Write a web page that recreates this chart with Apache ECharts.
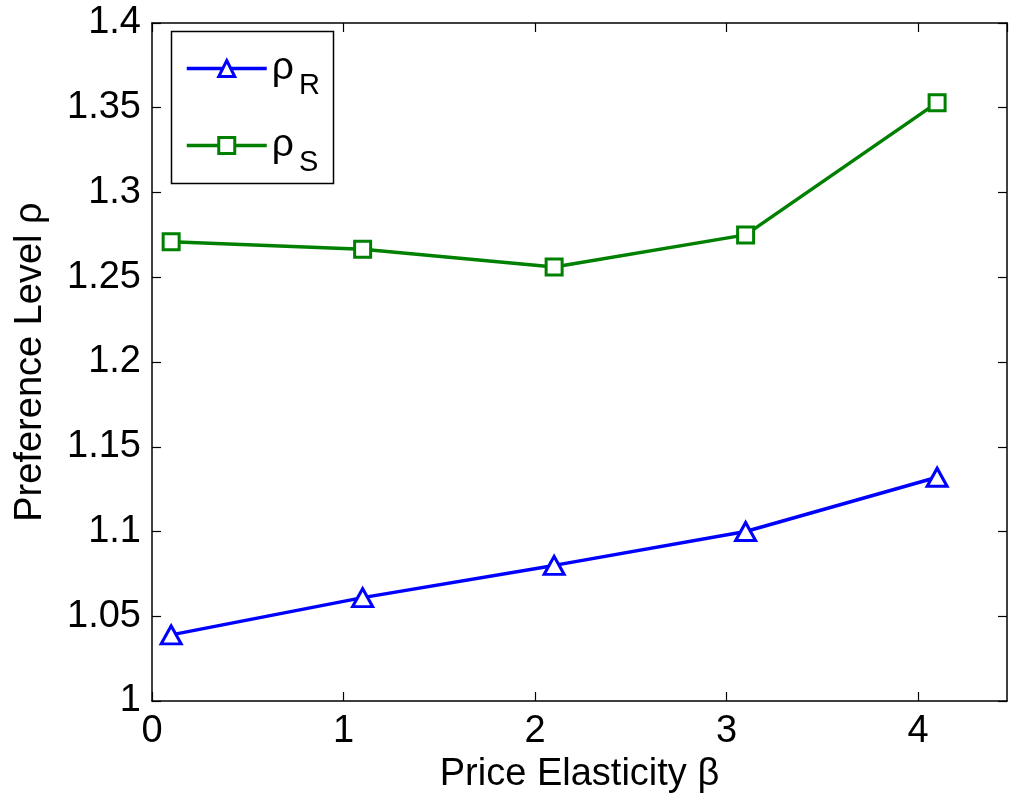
<!DOCTYPE html>
<html>
<head>
<meta charset="utf-8">
<script src="https://cdn.jsdelivr.net/npm/echarts@6/dist/echarts.min.js"></script>
<style>
  html, body { margin: 0; padding: 0; background: #fff; }
  #chart { width: 1010px; height: 799px; }
</style>
</head>
<body>
<div id="chart"></div>
<script>
// Price elasticity values on the x axis
const beta = [0.1, 1.1, 2.1, 3.1, 4.1];
// Preference levels of the two series
const rhoR = [1.039, 1.061, 1.080, 1.100, 1.132];
const rhoS = [1.271, 1.2665, 1.256, 1.275, 1.353];
// Axis ticks
const xTicks = [0, 1, 2, 3, 4];
const yTicks = [1, 1.05, 1.1, 1.15, 1.2, 1.25, 1.3, 1.35, 1.4];

const FONT = 'Liberation Sans, Arial, sans-serif';
const pair = (xs, ys) => xs.map((x, i) => [x, ys[i]]);

const chart = echarts.init(document.getElementById('chart'), null, { renderer: 'canvas' });

const axisLine = () => ({ show: true, onZero: false, lineStyle: { color: '#000', width: 1.5 } });
const axisTick = () => ({ show: true, inside: true, length: 9, lineStyle: { color: '#000', width: 1.2 } });

chart.setOption({
  animation: false,
  backgroundColor: '#fff',
  grid: { left: 152, top: 23, right: 3, bottom: 97, containLabel: false },
  xAxis: [
    {
      type: 'value', min: 0, max: 4.465, interval: 1, position: 'bottom',
      name: 'Price Elasticity β', nameLocation: 'middle', nameGap: 55,
      nameTextStyle: { fontFamily: FONT, fontSize: 38, color: '#000' },
      axisLine: axisLine(), axisTick: axisTick(), splitLine: { show: false },
      axisLabel: {
        fontFamily: FONT, fontSize: 38, color: '#000', margin: 12,
        showMaxLabel: false,
        formatter: v => xTicks.includes(v) ? String(v) : ''
      }
    },
    {
      type: 'value', min: 0, max: 4.465, interval: 1, position: 'top',
      axisLine: axisLine(), axisTick: axisTick(), splitLine: { show: false }, axisLabel: { show: false }
    }
  ],
  yAxis: [
    {
      type: 'value', min: 1, max: 1.4, interval: 0.05, position: 'left',
      name: 'Preference Level ρ', nameLocation: 'middle', nameGap: 102,
      nameTextStyle: { fontFamily: FONT, fontSize: 38, color: '#000' },
      axisLine: axisLine(), axisTick: axisTick(), splitLine: { show: false },
      axisLabel: {
        fontFamily: FONT, fontSize: 38, color: '#000', margin: 11,
        formatter: v => {
          const t = yTicks.find(k => Math.abs(k - v) < 1e-9);
          return t === undefined ? '' : String(+t.toFixed(2));
        }
      }
    },
    {
      type: 'value', min: 1, max: 1.4, interval: 0.05, position: 'right',
      axisLine: axisLine(), axisTick: axisTick(), splitLine: { show: false }, axisLabel: { show: false }
    }
  ],
  legend: {
    orient: 'vertical', left: 180, top: 44, itemWidth: 80, itemHeight: 20, itemGap: 26,
    lineStyle: { width: 3.5 },
    itemStyle: { borderWidth: 3 },
    textStyle: {
      fontFamily: FONT, color: '#000',
      rich: {
        a: { fontSize: 39, fontFamily: FONT, color: '#000' },
        b: { fontSize: 29, fontFamily: FONT, color: '#000', padding: [34, 0, 0, 5] }
      }
    },
    formatter: name => name === 'rhoR' ? '{a|ρ}{b|R}' : '{a|ρ}{b|S}',
    data: ['rhoR', 'rhoS']
  },
  graphic: [
    {
      type: 'rect', left: 169, top: 29,
      shape: { width: 162, height: 152 },
      style: { fill: 'none', stroke: '#000', lineWidth: 1.5 },
      z: 10
    }
  ],
  series: [
    {
      name: 'rhoR', type: 'line', data: pair(beta, rhoR),
      symbol: 'triangle', symbolSize: [20, 18],
      lineStyle: { color: '#0000ff', width: 3.5 },
      itemStyle: { color: '#fff', borderColor: '#0000ff', borderWidth: 3 }
    },
    {
      name: 'rhoS', type: 'line', data: pair(beta, rhoS),
      symbol: 'rect', symbolSize: 16,
      lineStyle: { color: '#008000', width: 3.5 },
      itemStyle: { color: '#fff', borderColor: '#008000', borderWidth: 3 }
    }
  ]
});
</script>
</body>
</html>
